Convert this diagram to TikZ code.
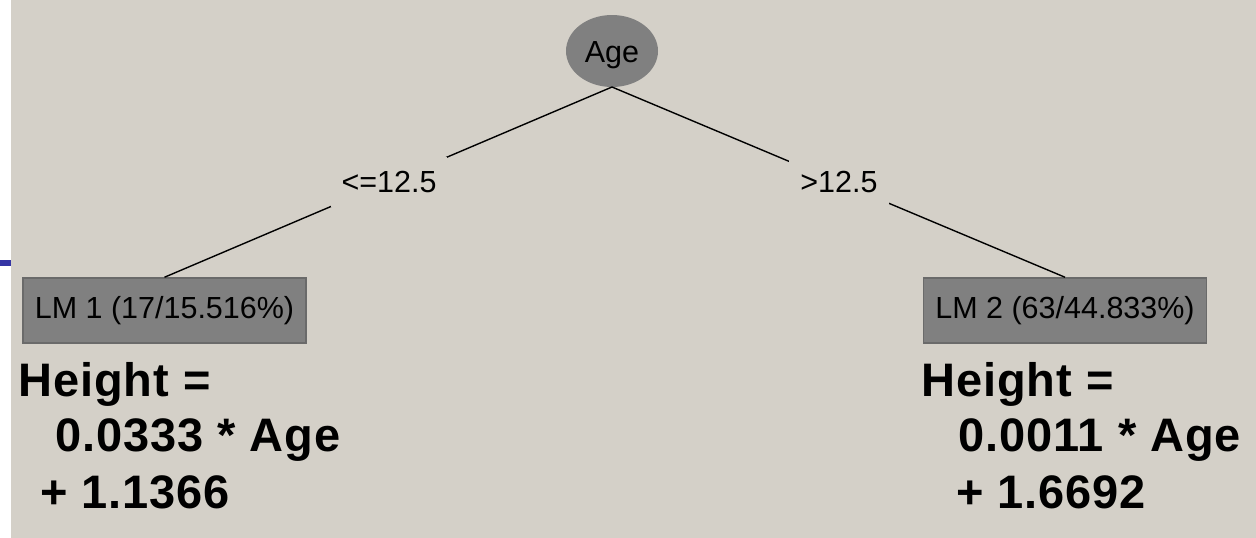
\documentclass[tikz,border=0pt]{standalone}
\usepackage{fontspec}
\setmainfont{Liberation Sans}
\usetikzlibrary{shapes.geometric}
\definecolor{bgc}{HTML}{D4D0C8}
\definecolor{nodec}{HTML}{808080}
\definecolor{edgec}{HTML}{6A6A6A}
\definecolor{bluec}{HTML}{3535A5}
\tikzset{
  small/.style={font=\fontsize{30.5}{36}\selectfont, text=black},
  big/.style={font=\fontsize{47}{56}\selectfont\bfseries\addfontfeature{LetterSpace=2}, text=black, inner sep=0pt, anchor=base west},
  splitnode/.style={ellipse, fill=nodec, minimum width=92pt, minimum height=72pt, inner sep=0pt, text depth=0pt, small},
  leafbox/.style={rectangle, fill=nodec, draw=edgec, line width=1.5pt, minimum width=283pt, minimum height=65pt, inner sep=0pt, small},
  edgelabel/.style={fill=bgc, inner xsep=11pt, minimum height=50pt, inner ysep=0pt, small},
  branch/.style={draw=black, line width=1.4pt}
}
\begin{document}
\begin{tikzpicture}[x=1pt,y=-1pt]
\useasboundingbox (0,0) rectangle (1256,538);
\fill[white] (0,0) rectangle (11,538);
\fill[bgc] (11,0) rectangle (1256,538);
\fill[bluec] (0,260) rectangle (11,266);

\node[splitnode] (age) at (612,51) {\raisebox{-3pt}{Age}};
\node[leafbox] (lm1) at (164.5,310.5) {LM 1 (17/15.516\%)};
\node[leafbox] (lm2) at (1065,310.5) {LM 2 (63/44.833\%)};
\coordinate (agebot) at (612,87);

\draw[branch] (agebot) -- (lm1.north);
\draw[branch] (agebot) -- (lm2.north);
\node[edgelabel] (l1) at (389,182) {<=12.5};
\node[edgelabel] (l2) at (839,182) {>12.5};

\node[big] (h1a) at (18,396) {Height =};
\node[big] (h1b) at (55,451) {0.0333 * Age};
\node[big] (h1c) at (40,508) {+ 1.1366};

\node[big] (h2a) at (921,396) {Height =};
\node[big] (h2b) at (958,451) {0.0011 * Age};
\node[big] (h2c) at (956,508) {+ 1.6692};
\end{tikzpicture}
\end{document}
